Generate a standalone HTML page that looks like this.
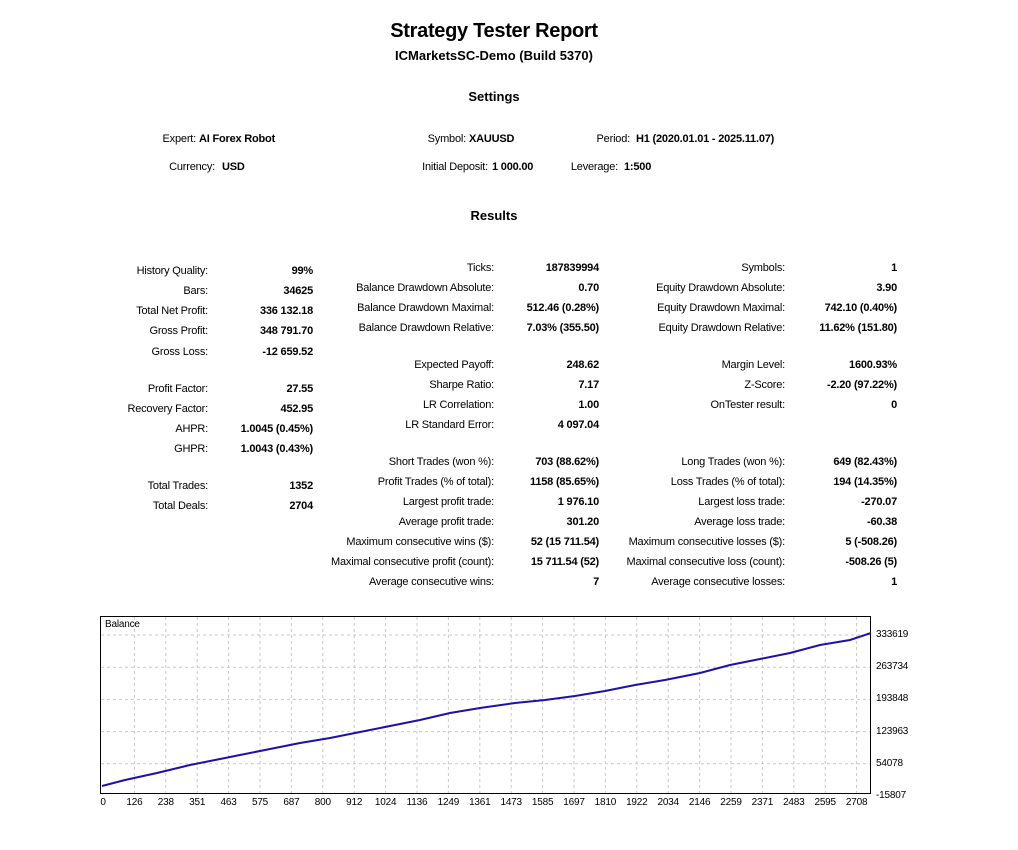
<!DOCTYPE html>
<html><head><meta charset="utf-8"><style>
body{margin:0;width:1018px;height:850px;background:#fff;font-family:"Liberation Sans","DejaVu Sans",sans-serif;color:#000;position:relative;overflow:hidden}
.t{position:absolute;font-size:11px;line-height:14px;white-space:nowrap;letter-spacing:-0.2px}
.r{text-align:right}
.b{font-weight:bold}
.c{position:absolute;left:0;width:988px;text-align:center;font-weight:bold}
</style></head><body>
<div class="c" style="top:18px;font-size:20px;line-height:26px;letter-spacing:-0.3px">Strategy Tester Report</div>
<div class="c" style="top:48px;font-size:13px;line-height:16px">ICMarketsSC-Demo (Build 5370)</div>
<div class="c" style="top:89px;font-size:13px;line-height:16px">Settings</div>
<div class="c" style="top:208px;font-size:13px;line-height:16px">Results</div>

<div class="t r" style="right:822px;top:132px">Expert:</div><div class="t b" style="left:199px;top:132px">AI Forex Robot</div>
<div class="t r" style="right:552px;top:132px">Symbol:</div><div class="t b" style="left:469px;top:132px">XAUUSD</div>
<div class="t r" style="right:388px;top:132px">Period:</div><div class="t b" style="left:636px;top:132px">H1 (2020.01.01 - 2025.11.07)</div>
<div class="t r" style="right:803px;top:160px">Currency:</div><div class="t b" style="left:222px;top:160px">USD</div>
<div class="t r" style="right:530px;top:160px">Initial Deposit:</div><div class="t b" style="left:492px;top:160px">1 000.00</div>
<div class="t r" style="right:400px;top:160px">Leverage:</div><div class="t b" style="left:624px;top:160px">1:500</div>

<div id="res"></div>

<div style="position:absolute;left:100px;top:616px;width:771px;height:178px;border:1px solid #000;box-sizing:border-box"></div>
<svg style="position:absolute;left:0;top:0" width="1018" height="850">
<g stroke="#c8c8c8" stroke-dasharray="3,3" stroke-width="1" id="grid"></g>
<polyline fill="none" stroke="#1c12a8" stroke-width="2" points="102,786 125,780 157,773 190,765 215,760 240,755 270,749 300,743 330,738 360,732 390,726 420,720 450,713 480,708 515,703 545,700 575,696 605,691 635,685 665,680 700,673 730,665 760,659 790,653 820,645 850,640 871,633"/>
</svg>
<div class="t" style="left:105px;top:618px;font-size:10px">Balance</div>
<div id="ax"></div>
<script>
var R=[
[208,313,271,"History Quality:","99%"],[208,313,291,"Bars:","34625"],[208,313,311,"Total Net Profit:","336 132.18"],[208,313,331,"Gross Profit:","348 791.70"],[208,313,352,"Gross Loss:","-12 659.52"],
[208,313,389,"Profit Factor:","27.55"],[208,313,409,"Recovery Factor:","452.95"],[208,313,429,"AHPR:","1.0045 (0.45%)"],[208,313,449,"GHPR:","1.0043 (0.43%)"],
[208,313,486,"Total Trades:","1352"],[208,313,506,"Total Deals:","2704"],
[494,599,268,"Ticks:","187839994"],[494,599,288,"Balance Drawdown Absolute:","0.70"],[494,599,308,"Balance Drawdown Maximal:","512.46 (0.28%)"],[494,599,328,"Balance Drawdown Relative:","7.03% (355.50)"],
[494,599,365,"Expected Payoff:","248.62"],[494,599,385,"Sharpe Ratio:","7.17"],[494,599,405,"LR Correlation:","1.00"],[494,599,425,"LR Standard Error:","4 097.04"],
[494,599,462,"Short Trades (won %):","703 (88.62%)"],[494,599,482,"Profit Trades (% of total):","1158 (85.65%)"],[494,599,502,"Largest profit trade:","1 976.10"],[494,599,522,"Average profit trade:","301.20"],[494,599,542,"Maximum consecutive wins ($):","52 (15 711.54)"],[494,599,562,"Maximal consecutive profit (count):","15 711.54 (52)"],[494,599,582,"Average consecutive wins:","7"],
[785,897,268,"Symbols:","1"],[785,897,288,"Equity Drawdown Absolute:","3.90"],[785,897,308,"Equity Drawdown Maximal:","742.10 (0.40%)"],[785,897,328,"Equity Drawdown Relative:","11.62% (151.80)"],
[785,897,365,"Margin Level:","1600.93%"],[785,897,385,"Z-Score:","-2.20 (97.22%)"],[785,897,405,"OnTester result:","0"],
[785,897,462,"Long Trades (won %):","649 (82.43%)"],[785,897,482,"Loss Trades (% of total):","194 (14.35%)"],[785,897,502,"Largest loss trade:","-270.07"],[785,897,522,"Average loss trade:","-60.38"],[785,897,542,"Maximum consecutive losses ($):","5 (-508.26)"],[785,897,562,"Maximal consecutive loss (count):","-508.26 (5)"],[785,897,582,"Average consecutive losses:","1"]];
var h="";R.forEach(function(a){h+='<div class="t r" style="right:'+(1018-a[0])+'px;top:'+(a[2]-7)+'px">'+a[3]+'</div><div class="t r b" style="right:'+(1018-a[1])+'px;top:'+(a[2]-7)+'px">'+a[4]+'</div>';});
document.getElementById("res").innerHTML=h;
var g="",ax="";
var xl=[0,126,238,351,463,575,687,800,912,1024,1136,1249,1361,1473,1585,1697,1810,1922,2034,2146,2259,2371,2483,2595,2708];
for(var i=0;i<xl.length;i++){var x=103+i*31.4;if(i>0)g+='<line x1="'+x+'" y1="617" x2="'+x+'" y2="793"/>';ax+='<div class="t" style="left:'+(x-20)+'px;width:40px;text-align:center;top:796px;font-size:10px">'+xl[i]+'</div>';}
var yl=[333619,263734,193848,123963,54078,-15807];
for(var j=0;j<6;j++){var y=635+j*32.2;if(j<5)g+='<line x1="101" y1="'+y+'" x2="870" y2="'+y+'"/>';ax+='<div class="t" style="left:876px;top:'+(y-7)+'px;font-size:10px">'+yl[j]+'</div>';}
document.getElementById("grid").innerHTML=g;document.getElementById("ax").innerHTML=ax;
</script>
</body></html>
